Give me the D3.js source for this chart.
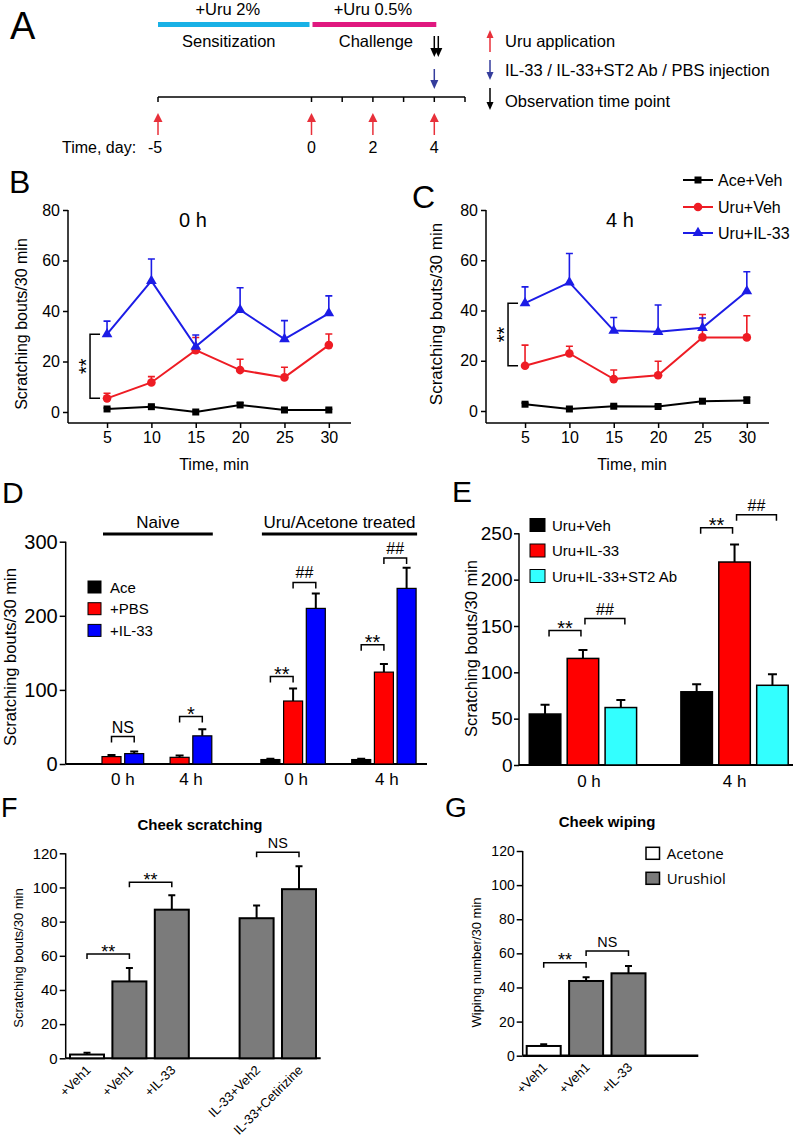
<!DOCTYPE html>
<html>
<head>
<meta charset="utf-8">
<title>Uru / IL-33 scratching figure</title>
<script src="https://cdn.jsdelivr.net/npm/d3@7/dist/d3.min.js"></script>
<style>
  body { margin: 0; background: #fff; }
  svg { display: block; }
</style>
</head>
<body>
<svg id="fig" width="796" height="1140"></svg>
<script>
// ---- A: protocol timeline
const stageNames = ["Sensitization", "Challenge"];
const stageDoses = ["+Uru 2%", "+Uru 0.5%"];
const stageStart = [-5, 0];
const stageEnd = [0, 4];
const dayTicks = [-5, 0, 1, 2, 3, 4, 5];
const dayLabels = [-5, 0, 2, 4];
const uruDays = [-5, 0, 2, 4];
const injectDays = [4];
const observeHours = [0, 4];          // both on day 4
const arrowLegend = ["Uru application", "IL-33 / IL-33+ST2 Ab / PBS injection", "Observation time point"];

// ---- B / C: time course (mean, SEM)
const timeMin = [5, 10, 15, 20, 25, 30];
const lineNames = ["Ace+Veh", "Uru+Veh", "Uru+IL-33"];
const b0hAce = [1.2, 2.1, 0, 2.8, 0.8, 0.8];
const b0hAceErr = [0.4, 0.5, 0.3, 0.8, 0.3, 0.3];
const b0hUru = [5.4, 11.7, 24.5, 16.6, 13.7, 26.5];
const b0hUruErr = [2.0, 2.3, 5.0, 4.3, 4.0, 4.4];
const b0hIL33 = [30.8, 51.9, 25.9, 40.4, 28.9, 39.1];
const b0hIL33Err = [5.2, 8.7, 4.6, 8.8, 7.3, 6.9];
const c4hAce = [2.7, 0.8, 1.9, 1.8, 3.9, 4.2];
const c4hAceErr = [0.5, 0.4, 0.4, 0.4, 0.5, 1.4];
const c4hUru = [18.0, 22.9, 12.7, 14.2, 29.3, 29.3];
const c4hUruErr = [8.2, 2.9, 3.6, 5.6, 9.1, 8.6];
const c4hIL33 = [42.9, 51.2, 32.0, 31.5, 33.1, 47.7];
const c4hIL33Err = [6.5, 11.5, 5.2, 10.7, 3.9, 7.7];

// ---- D: naive vs treated
const dGroupCohort = ["Naive", "Naive", "Uru/Acetone treated", "Uru/Acetone treated"];
const dGroupTime = ["0 h", "4 h", "0 h", "4 h"];
const dSeries = ["Ace", "+PBS", "+IL-33"];
const dAce = [null, null, 6, 6];
const dAceErr = [0, 0, 1.2, 1.2];
const dPBS = [10, 9, 85, 124];
const dPBSErr = [2, 2.5, 17, 11];
const dIL33 = [14, 38, 210, 237];
const dIL33Err = [3, 9, 20, 28];
// [group, series a, series b, bracket height, label]
const dSig = [[0, 1, 2, 37, "NS"], [1, 1, 2, 64, "*"], [2, 0, 1, 118, "**"],
              [2, 1, 2, 245, "##"], [3, 0, 1, 161, "**"], [3, 1, 2, 278, "##"]];

// ---- E: ST2 antibody
const eTimes = ["0 h", "4 h"];
const eSeries = ["Uru+Veh", "Uru+IL-33", "Uru+IL-33+ST2 Ab"];
const eVeh = [55, 79];
const eVehErr = [10, 8];
const eIL33 = [115, 219];
const eIL33Err = [9, 19];
const eST2 = [62, 86];
const eST2Err = [8, 12];
const eSig = [[0, 0, 1, 145, "**"], [0, 1, 2, 158, "##"], [1, 0, 1, 256, "**"], [1, 1, 2, 270, "##"]];

// ---- F / G: cheek model
const fLabels = ["+Veh1", "+Veh1", "+IL-33", "IL-33+Veh2", "IL-33+Cetirizine"];
const fSkin = ["Acetone", "Urushiol", "Urushiol", "Urushiol", "Urushiol"];
const fMeans = [2.2, 45, 87, 82, 99];
const fErr = [1.0, 7.8, 8.5, 7.4, 13.4];
const fSig = [[0, 1, 61, "**"], [1, 2, 103, "**"], [3, 4, 120.6, "NS"]];
const gLabels = ["+Veh1", "+Veh1", "+IL-33"];
const gSkin = ["Acetone", "Urushiol", "Urushiol"];
const gMeans = [5.7, 43.8, 48.3];
const gErr = [1.0, 2.2, 4.3];
const gSig = [[0, 1, 54.5, "**"], [1, 2, 61.4, "NS"]];
const skinTypes = ["Acetone", "Urushiol"];

const FONT = '"Liberation Sans", Arial, Helvetica, sans-serif';
const svg = d3.select("#fig").attr("font-family", FONT);

function label(g, x, y, s, size, anchor, weight) {
  return g.append("text").attr("x", x).attr("y", y).attr("font-size", size)
    .attr("text-anchor", anchor || "start").attr("font-weight", weight || "normal")
    .attr("fill", "#000").text(s);
}
function yTitle(g, x, y, s, size) {
  g.append("text").attr("transform", `translate(${x},${y}) rotate(-90)`)
    .attr("text-anchor", "middle").attr("font-size", size).text(s);
}
function vline(g, x, y1, y2, w) {
  g.append("line").attr("x1", x).attr("x2", x).attr("y1", y1).attr("y2", y2)
    .attr("stroke", "#000").attr("stroke-width", w || 1.5);
}
function hline(g, x1, x2, y, w) {
  g.append("line").attr("x1", x1).attr("x2", x2).attr("y1", y).attr("y2", y)
    .attr("stroke", "#000").attr("stroke-width", w || 1.5);
}
function leftAxis(g, x, scale, ticks, fs, tickLen, pad) {
  const a = g.append("g").attr("transform", `translate(${x},0)`)
    .call(d3.axisLeft(scale).tickValues(ticks).tickSize(tickLen).tickPadding(pad));
  a.select(".domain").remove();
  a.attr("font-size", fs).attr("font-family", FONT);
  a.selectAll(".tick line").attr("stroke-width", 1.5);
  return a;
}
function errUp(g, cx, yFrom, yTo, cap, color, w) {
  g.append("path").attr("d", `M${cx},${yFrom}V${yTo}M${cx - cap / 2},${yTo}H${cx + cap / 2}`)
    .attr("fill", "none").attr("stroke", color).attr("stroke-width", w);
}
function bracket(g, x1, x2, y, s, size, drop) {
  g.append("path").attr("d", `M${x1},${y + drop}V${y}H${x2}V${y + drop}`)
    .attr("fill", "none").attr("stroke", "#000").attr("stroke-width", 1.5);
  const star = s.indexOf("*") >= 0;
  label(g, (x1 + x2) / 2, star ? y + size * 0.2 : y - 4, s, star ? size : size * 0.8, "middle");
}
function arrow(g, x, yTail, yTip, color, head, half) {
  const dir = yTip > yTail ? 1 : -1;
  g.append("line").attr("x1", x).attr("x2", x).attr("y1", yTail).attr("y2", yTip - dir * (head - 1))
    .attr("stroke", color).attr("stroke-width", 1.5);
  g.append("path").attr("d", `M${x - half},${yTip - dir * head}L${x + half},${yTip - dir * head}L${x},${yTip}Z`)
    .attr("fill", color);
}

// ================= A
const gA = svg.append("g");
label(gA, 10, 39, "A", 38);
const dayX = d3.scaleLinear().domain([-5, 5]).range([158, 465]);
const stageColors = ["#19b1e6", "#e0187f"];
stageNames.forEach((s, i) => {
  const x1 = dayX(stageStart[i]), x2 = dayX(stageEnd[i]);
  gA.append("rect").attr("x", x1 + (i ? 1 : 0)).attr("y", 22).attr("width", x2 - x1 + (i ? 1 : -2)).attr("height", 5)
    .attr("fill", stageColors[i]);
  label(gA, (x1 + x2) / 2 - (i ? 0 : 7), 15, stageDoses[i], 16.5, "middle");
  label(gA, (x1 + x2) / 2 + (i ? 3 : -6), 47, s, 16.5, "middle");
});
hline(gA, dayX(-5), dayX(5), 97);
dayTicks.forEach(d => vline(gA, dayX(d), 97, 102));
label(gA, 62, 153, "Time, day:", 16);
dayLabels.forEach(d => label(gA, dayX(d) - (d < 0 ? 3 : 0), 153, d < 0 ? "-" + Math.abs(d) : String(d), 16, "middle"));
uruDays.forEach(d => arrow(gA, dayX(d), 135, 113, "#e8303a", 9, 4.5));
injectDays.forEach(d => arrow(gA, dayX(d), 69, 89, "#343c9c", 9, 4));
observeHours.forEach(h => arrow(gA, dayX(4) + h, 36, 57, "#000", 9, 4));
// legend
const legArrows = [[52, 30, "#e8303a"], [60, 80, "#343c9c"], [88, 110, "#000"]];
arrowLegend.forEach((s, i) => {
  arrow(gA, 490, legArrows[i][0], legArrows[i][1], legArrows[i][2], 8, 3.5);
  label(gA, 505, [46.7, 76, 106.7][i], s, 16.5);
});

// ================= B, C
const lineColors = ["#000000", "#ee1c24", "#1c1ce6"];
const lineSyms = [[d3.symbolSquare, 49], [d3.symbolCircle, 58], [d3.symbolTriangle, 50]];

function timeCourse(o) {
  const g = svg.append("g");
  const x = d3.scaleLinear().domain([0.6, 32.5]).range([o.left, o.left + 283]);
  const y = d3.scaleLinear().domain([0, 80]).range([o.zero, 210]);
  const base = 423;
  leftAxis(g, o.left, y, [0, 20, 40, 60, 80], 16, 5, 3);
  vline(g, o.left, 210, base);
  const xa = g.append("g").attr("transform", `translate(0,${base})`)
    .call(d3.axisBottom(x).tickValues(timeMin).tickSize(5).tickPadding(4));
  xa.select(".domain").remove();
  xa.attr("font-size", 16).attr("font-family", FONT);
  xa.selectAll(".tick line").attr("stroke-width", 1.5);
  hline(g, o.left, o.left + 283, base);
  label(g, o.left + 146, 470, "Time, min", 16, "middle");
  label(g, o.titleX, 227, o.title, 20, "middle");
  yTitle(g, o.yLabX, o.yLabY, "Scratching bouts/30 min", o.yLabSize);

  o.series.forEach((s, k) => {
    timeMin.forEach((t, i) => errUp(g, x(t), y(s.means[i]), y(s.means[i] + s.errs[i]), 7, lineColors[k], 1.6));
    g.append("path").datum(s.means)
      .attr("d", d3.line().x((d, i) => x(timeMin[i])).y(d => y(d)))
      .attr("fill", "none").attr("stroke", lineColors[k]).attr("stroke-width", 2);
    g.selectAll(null).data(s.means).join("path")
      .attr("transform", (d, i) => `translate(${x(timeMin[i])},${y(d)})`)
      .attr("d", d3.symbol(lineSyms[k][0], lineSyms[k][1]))
      .attr("fill", lineColors[k]);
  });

  // ** between Uru+IL-33 and Uru+Veh at 5 min
  const bx = x(5) - 17, yA = y(o.series[2].means[0]), yB = y(o.series[1].means[0]);
  g.append("path").attr("d", `M${bx + 10},${yA}H${bx}V${yB}H${bx + 10}`)
    .attr("fill", "none").attr("stroke", "#000").attr("stroke-width", 1.5);
  g.append("text").attr("transform", `translate(${bx + 2.5},${(yA + yB) / 2}) rotate(-90)`)
    .attr("text-anchor", "middle").attr("font-size", 20).text("**");
  return g;
}

timeCourse({
  left: 68, zero: 412, title: "0 h", titleX: 193, yLabX: 26.5, yLabY: 324, yLabSize: 16,
  series: [{ means: b0hAce, errs: b0hAceErr }, { means: b0hUru, errs: b0hUruErr }, { means: b0hIL33, errs: b0hIL33Err }]
});
const gC = timeCourse({
  left: 486, zero: 411, title: "4 h", titleX: 620, yLabX: 441.5, yLabY: 314, yLabSize: 17,
  series: [{ means: c4hAce, errs: c4hAceErr }, { means: c4hUru, errs: c4hUruErr }, { means: c4hIL33, errs: c4hIL33Err }]
});
label(svg, 9, 193, "B", 32);
label(svg, 412, 208, "C", 32);
lineNames.forEach((s, k) => {
  const ly = [180, 207, 233][k];
  gC.append("line").attr("x1", 683).attr("x2", 713).attr("y1", ly).attr("y2", ly)
    .attr("stroke", lineColors[k]).attr("stroke-width", 2);
  gC.append("path").attr("transform", `translate(698,${ly})`)
    .attr("d", d3.symbol(lineSyms[k][0], lineSyms[k][1])).attr("fill", lineColors[k]);
  label(gC, 718, ly + 5.5, s, 16);
});

// ================= D
const gD = svg.append("g");
label(gD, 2, 503, "D", 30);
const dY = d3.scaleLinear().domain([0, 300]).range([764, 541.7]);
const dSlot = d3.scaleLinear().domain([0, 1]).range([102, 124.7]);   // slot -> bar left edge
const dGroupSlot = [-1, 2, 7, 11];
const dBarW = 19;
const dColors = ["#000000", "#ff0000", "#0000ff"];
const dVals = [dAce, dPBS, dIL33], dErrs = [dAceErr, dPBSErr, dIL33Err];
const dLeft = (g, s) => dSlot(dGroupSlot[g] + s);

leftAxis(gD, 65.7, dY, [0, 100, 200, 300], 20, 6, 2);
vline(gD, 65.7, 541.7, 764);
hline(gD, 65.7, 427, 764, 2);
yTitle(gD, 15.5, 657, "Scratching bouts/30 min", 16.6);

dGroupTime.forEach((t, g) => {
  const cx = [];
  dVals.forEach((vals, s) => {
    if (vals[g] == null) return;
    const x = dLeft(g, s);
    cx.push(x + dBarW / 2);
    gD.append("rect").attr("x", x).attr("y", dY(vals[g])).attr("width", dBarW)
      .attr("height", dY(0) - dY(vals[g])).attr("fill", dColors[s]).attr("stroke", "#000").attr("stroke-width", 1.2);
    errUp(gD, x + dBarW / 2, dY(vals[g]), dY(vals[g] + dErrs[s][g]), 8, "#000", 2);
  });
  label(gD, d3.mean(cx) + (g > 1 ? 3 : 0), 785, t, 17, "middle");
});
d3.groups(dGroupTime.map((t, g) => [dGroupCohort[g], g]), d => d[0]).forEach(([name, rows]) => {
  const gs = rows.map(r => r[1]);
  const left = d3.min(gs, g => d3.min(dVals.map((v, s) => v[g] == null ? Infinity : dLeft(g, s))));
  const right = d3.max(gs, g => dLeft(g, 2) + dBarW);
  gD.append("line").attr("x1", left + 1).attr("x2", right + 1).attr("y1", 534).attr("y2", 534)
    .attr("stroke", "#000").attr("stroke-width", 3);
  label(gD, (left + right) / 2 + 1, 528, name, 17, "middle");
});
dSig.forEach(([g, a, b, h, s]) => {
  bracket(gD, dLeft(g, a) + dBarW / 2, dLeft(g, b) + dBarW / 2, dY(h), s, 20, 6);
});
dSeries.forEach((s, i) => {
  const cy = 587 + i * 21.7;
  gD.append("rect").attr("x", 88).attr("y", cy - 6).attr("width", 13).attr("height", 12)
    .attr("fill", dColors[i]).attr("stroke", "#000").attr("stroke-width", 1);
  label(gD, 110, cy + 5.5, s, 15);
});

// ================= E
const gE = svg.append("g");
label(gE, 452, 502, "E", 30);
const eY = d3.scaleLinear().domain([0, 250]).range([765, 533.3]);
const eSlot = d3.scaleLinear().domain([0, 1]).range([529.3, 567.2]);
const eBarW = 31.5;
const eColors = ["#000000", "#ff0000", "#33ffff"];
const eVals = [eVeh, eIL33, eST2], eErrs = [eVehErr, eIL33Err, eST2Err];
const eLeft = (g, s) => eSlot(g * 4 + s);

leftAxis(gE, 519, eY, [0, 50, 100, 150, 200, 250], 19, 5, 1.5);
vline(gE, 519, 533.3, 765);
hline(gE, 519, 793, 765, 2);
yTitle(gE, 477, 648.5, "Scratching bouts/30 min", 16.5);
eTimes.forEach((t, g) => {
  eVals.forEach((vals, s) => {
    const x = eLeft(g, s);
    gE.append("rect").attr("x", x).attr("y", eY(vals[g])).attr("width", eBarW)
      .attr("height", eY(0) - eY(vals[g])).attr("fill", eColors[s]).attr("stroke", "#000").attr("stroke-width", 1.5);
    errUp(gE, x + eBarW / 2, eY(vals[g]), eY(vals[g] + eErrs[s][g]), 9, "#000", 2);
  });
  label(gE, eLeft(g, 1) + eBarW / 2 + (g ? 0 : 6), 786.7, t, 17, "middle");
});
eSig.forEach(([g, a, b, h, s]) => {
  bracket(gE, eLeft(g, a) + eBarW / 2 + (a ? 2 : 4), eLeft(g, b) + eBarW / 2 - (a ? -4 : 2), eY(h), s, 20, 6);
});
eSeries.forEach((s, i) => {
  const cy = 525 + i * 25.5;
  gE.append("rect").attr("x", 530).attr("y", cy - 6.5).attr("width", 15).attr("height", 13)
    .attr("fill", eColors[i]).attr("stroke", "#000").attr("stroke-width", 1);
  label(gE, 552, cy + 5.5, s, 15);
});

// ================= F, G
const skinFill = { Acetone: "#ffffff", Urushiol: "#7b7b7b" };

function cheekPanel(o) {
  const g = svg.append("g");
  const y = d3.scaleLinear().domain([0, 120]).range([o.zero, o.top]);
  const slot = d3.scaleLinear().domain([0, 1]).range([o.first, o.first + 42.4]);
  const barW = 34;
  const left = i => slot(i + (i > 2 ? 1 : 0));
  leftAxis(g, o.axisX, y, d3.range(0, 121, 20), o.tickFs, 6, 2);
  vline(g, o.axisX, o.top, o.zero);
  hline(g, o.axisX, o.axisEnd, o.zero, o.baseW);
  yTitle(g, o.yLabX, o.yLabY, o.yLab, 13);
  label(g, o.titleX, o.titleY, o.title, 15, "middle", "bold");
  o.means.forEach((m, i) => {
    const x = left(i);
    g.append("rect").attr("x", x).attr("y", y(m)).attr("width", barW).attr("height", o.zero - y(m))
      .attr("fill", skinFill[o.skin[i]]).attr("stroke", "#000").attr("stroke-width", 2);
    errUp(g, x + barW / 2, y(m), y(m + o.errs[i]), 7, "#000", 2);
    g.append("text").attr("transform", `translate(${x + barW / 2 - 2},${o.zero + 6}) rotate(-45)`)
      .attr("dy", "0.71em").attr("text-anchor", "end").attr("font-size", 13).text(o.labels[i]);
  });
  o.sig.forEach(([a, b, h, s]) => {
    bracket(g, left(a) + barW / 2, left(b) + barW / 2, y(h), s, 18, 5);
  });
  return g;
}

cheekPanel({
  zero: 1058.3, top: 853.3, first: 70, axisX: 65.7, axisEnd: 320.7, baseW: 2, tickFs: 15,
  yLabX: 23, yLabY: 958, yLab: "Scratching bouts/30 min", title: "Cheek scratching", titleX: 200, titleY: 830,
  means: fMeans, errs: fErr, skin: fSkin, labels: fLabels, sig: fSig
});
const gG = cheekPanel({
  zero: 1055.7, top: 851, first: 526.7, axisX: 522.7, axisEnd: 698.3, baseW: 2.5, tickFs: 14,
  yLabX: 481, yLabY: 962.5, yLab: "Wiping number/30 min", title: "Cheek wiping", titleX: 607, titleY: 827,
  means: gMeans, errs: gErr, skin: gSkin, labels: gLabels, sig: gSig
});
label(svg, 1, 817, "F", 27);
label(svg, 445, 817, "G", 28);
skinTypes.forEach((s, i) => {
  const cy = 853.3 + i * 25;
  gG.append("rect").attr("x", 646).attr("y", cy - 6).attr("width", 13.5).attr("height", 12)
    .attr("fill", skinFill[s]).attr("stroke", "#000").attr("stroke-width", 1.5);
  gG.append("text").attr("x", 666.7).attr("y", cy + 5.5).attr("font-size", 15)
    .attr("font-family", '"Open Sans", sans-serif').text(s);
});
</script>
</body>
</html>
